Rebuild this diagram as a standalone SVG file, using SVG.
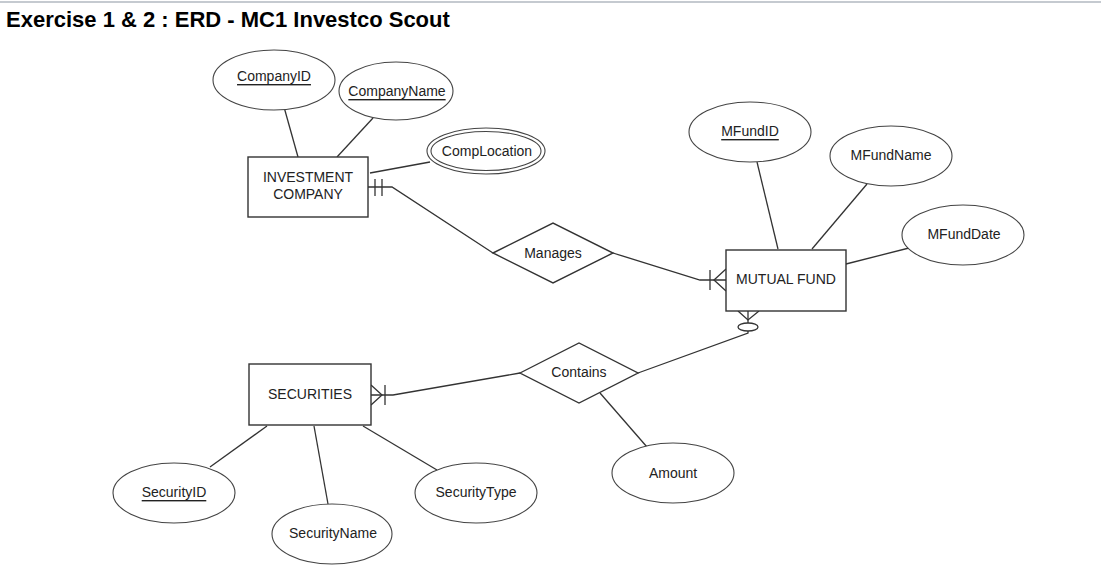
<svg xmlns="http://www.w3.org/2000/svg" width="1101" height="575" viewBox="0 0 1101 575">
<style>
.bg{fill:#ffffff}
.ent{fill:#ffffff;stroke:#333333;stroke-width:1.4}
.att{fill:#ffffff;stroke:#444444;stroke-width:1.1}
.rel{fill:#ffffff;stroke:#333333;stroke-width:1.4}
.ln{fill:none;stroke:#333333;stroke-width:1.3}
.t{font-family:"Liberation Sans",Arial,sans-serif;font-size:14px;fill:#222222;text-anchor:middle;dominant-baseline:central}
.u{text-decoration:underline}
.title{font-family:"Liberation Sans",Arial,sans-serif;font-size:22px;font-weight:bold;fill:#000000}
</style>
<rect class="bg" x="0" y="0" width="1101" height="575"/>
<line x1="0" y1="2" x2="1101" y2="2" stroke="#c5cad0" stroke-width="2"/>
<text class="title" x="6" y="27">Exercise 1 &amp; 2 : ERD - MC1 Investco Scout</text>

<g id="connectors">
  <line class="ln" x1="284" y1="107" x2="298" y2="157"/>
  <line class="ln" x1="373" y1="118" x2="337" y2="157"/>
  <line class="ln" x1="370" y1="173" x2="430" y2="162"/>
  <polyline class="ln" points="368,187 392,187 493,253"/>
  <line class="ln" x1="375" y1="179" x2="375" y2="196"/>
  <line class="ln" x1="382" y1="179" x2="382" y2="196"/>
  <polyline class="ln" points="613,253 700,280 726,280"/>
  <line class="ln" x1="710" y1="270" x2="710" y2="290"/>
  <polyline class="ln" points="726,269 714,280 726,291"/>
  <line class="ln" x1="757" y1="162" x2="778" y2="249"/>
  <line class="ln" x1="867" y1="184" x2="812" y2="249"/>
  <line class="ln" x1="909" y1="248" x2="846" y2="264"/>
  <polyline class="ln" points="738,311 748,320 759,311"/>
  <line class="ln" x1="748" y1="311" x2="748" y2="323"/>
  <ellipse class="ln" cx="748" cy="327" rx="10" ry="4"/>
  <polyline class="ln" points="748,331 748,333 638,373"/>
  <polyline class="ln" points="520,373 393,395 371,395"/>
  <line class="ln" x1="385" y1="385" x2="385" y2="405"/>
  <polyline class="ln" points="371,385 382,395 371,405"/>
  <line class="ln" x1="600" y1="393" x2="647" y2="447"/>
  <line class="ln" x1="267" y1="426" x2="210" y2="467"/>
  <line class="ln" x1="314" y1="426" x2="328" y2="504"/>
  <line class="ln" x1="363" y1="426" x2="437" y2="470"/>
</g>

<g id="investment-company">
  <rect class="ent" x="248" y="157" width="120" height="60"/>
  <text class="t" x="308" y="177">INVESTMENT</text>
  <text class="t" x="308" y="194">COMPANY</text>
</g>
<g id="company-id">
  <ellipse class="att" cx="274" cy="80" rx="61" ry="30"/>
  <text class="t u" x="274" y="76">CompanyID</text>
</g>
<g id="company-name">
  <ellipse class="att" cx="396" cy="91" rx="57" ry="29"/>
  <text class="t u" x="397" y="91">CompanyName</text>
</g>
<g id="comp-location">
  <ellipse class="att" cx="486" cy="151" rx="59" ry="23"/>
  <ellipse class="att" cx="486" cy="151" rx="55" ry="19.5"/>
  <text class="t" x="487" y="151">CompLocation</text>
</g>
<g id="manages">
  <polygon class="rel" points="493,253 553,223 613,253 553,283"/>
  <text class="t" x="553" y="253">Manages</text>
</g>
<g id="mutual-fund">
  <rect class="ent" x="726" y="250" width="120" height="61"/>
  <text class="t" x="786" y="279">MUTUAL FUND</text>
</g>
<g id="mfund-id">
  <ellipse class="att" cx="750" cy="132" rx="61" ry="30"/>
  <text class="t u" x="750" y="131">MFundID</text>
</g>
<g id="mfund-name">
  <ellipse class="att" cx="891" cy="156" rx="61" ry="30"/>
  <text class="t" x="891" y="155">MFundName</text>
</g>
<g id="mfund-date">
  <ellipse class="att" cx="963" cy="235" rx="61" ry="30"/>
  <text class="t" x="964" y="234">MFundDate</text>
</g>
<g id="contains">
  <polygon class="rel" points="520,373 579,343 638,373 579,403"/>
  <text class="t" x="579" y="372">Contains</text>
</g>
<g id="amount">
  <ellipse class="att" cx="673" cy="473" rx="61" ry="30"/>
  <text class="t" x="673" y="473">Amount</text>
</g>
<g id="securities">
  <rect class="ent" x="249" y="364" width="122" height="61"/>
  <text class="t" x="310" y="394">SECURITIES</text>
</g>
<g id="security-id">
  <ellipse class="att" cx="174" cy="493" rx="61" ry="30"/>
  <text class="t u" x="174" y="492">SecurityID</text>
</g>
<g id="security-name">
  <ellipse class="att" cx="332" cy="534" rx="60" ry="30"/>
  <text class="t" x="333" y="533">SecurityName</text>
</g>
<g id="security-type">
  <ellipse class="att" cx="476" cy="493" rx="61" ry="30"/>
  <text class="t" x="476" y="492">SecurityType</text>
</g>
</svg>
